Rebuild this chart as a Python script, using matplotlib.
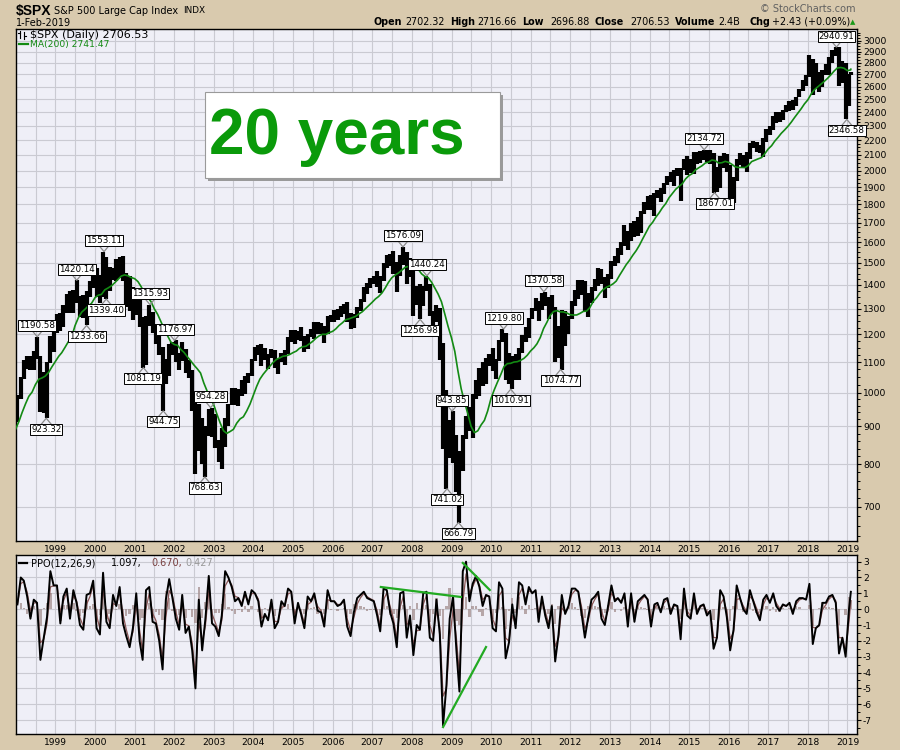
import numpy as np
import pandas as pd
import matplotlib
matplotlib.use("Agg")
import matplotlib.pyplot as plt
import matplotlib.dates as mdates
import matplotlib.transforms as mtransforms
from matplotlib.lines import Line2D
from matplotlib.patches import Rectangle
from matplotlib.ticker import FixedLocator, FormatStrFormatter, NullFormatter

# ---------------- data: $SPX monthly ----------------
CLOSE_START = "1997-03"   # a few months of warm-up for the MA
close = [
    757.12, 801.34, 848.28, 885.14, 954.31, 899.47, 947.28, 914.62, 955.40, 970.43,
    980.28, 1049.34, 1101.75, 1111.75, 1090.82, 1133.84, 1120.67, 957.28, 1017.01, 1098.67, 1163.63, 1229.23,
    1279.64, 1238.33, 1286.37, 1335.18, 1301.84, 1372.71, 1328.72, 1320.41, 1282.71, 1362.93, 1388.91, 1469.25,
    1394.46, 1366.42, 1498.58, 1452.43, 1420.60, 1454.60, 1430.83, 1517.68, 1436.51, 1429.40, 1314.95, 1320.28,
    1366.01, 1239.94, 1160.33, 1249.46, 1255.82, 1224.42, 1211.23, 1133.58, 1040.94, 1059.78, 1139.45, 1148.08,
    1130.20, 1106.73, 1147.39, 1076.92, 1067.14, 989.82, 911.62, 916.07, 815.28, 885.76, 936.31, 879.82,
    855.70, 841.15, 848.18, 916.92, 963.59, 974.50, 990.31, 1008.01, 995.97, 1050.71, 1058.20, 1111.92,
    1131.13, 1144.94, 1126.21, 1107.30, 1120.68, 1140.84, 1101.72, 1104.24, 1114.58, 1130.20, 1173.82, 1211.92,
    1181.27, 1203.60, 1180.59, 1156.85, 1191.50, 1191.33, 1234.18, 1220.33, 1228.81, 1207.01, 1249.48, 1248.29,
    1280.08, 1280.66, 1294.83, 1310.61, 1270.09, 1270.20, 1276.66, 1303.82, 1335.85, 1377.94, 1400.63, 1418.30,
    1438.24, 1406.82, 1420.86, 1482.37, 1530.62, 1503.35, 1455.27, 1473.99, 1526.75, 1549.38, 1481.14, 1468.36,
    1378.55, 1330.63, 1322.70, 1385.59, 1400.38, 1280.00, 1267.38, 1282.83, 1166.36, 968.75, 896.24, 903.25,
    825.88, 735.09, 797.87, 872.81, 919.14, 919.32, 987.48, 1020.62, 1057.08, 1036.19, 1095.63, 1115.10,
    1073.87, 1104.49, 1169.43, 1186.69, 1089.41, 1030.71, 1101.60, 1049.33, 1141.20, 1183.26, 1180.55, 1257.64,
    1286.12, 1327.22, 1325.83, 1363.61, 1345.20, 1320.64, 1292.28, 1218.89, 1131.42, 1253.30, 1246.96, 1257.60,
    1312.41, 1365.68, 1408.47, 1397.91, 1310.33, 1362.16, 1379.32, 1406.58, 1440.67, 1412.16, 1416.18, 1426.19,
    1498.11, 1514.68, 1569.19, 1597.57, 1630.74, 1606.28, 1685.73, 1632.97, 1681.55, 1756.54, 1805.81, 1848.36,
    1782.59, 1859.45, 1872.34, 1883.95, 1923.57, 1960.23, 1930.67, 2003.37, 1972.29, 2018.05, 2067.56, 2058.90,
    1994.99, 2104.50, 2067.89, 2085.51, 2107.39, 2063.11, 2103.84, 1972.18, 1920.03, 2079.36, 2080.41, 2043.94,
    1940.24, 1932.23, 2059.74, 2065.30, 2096.95, 2098.86, 2173.60, 2170.95, 2168.27, 2126.15, 2198.81, 2238.83,
    2278.87, 2363.64, 2362.72, 2384.20, 2411.80, 2423.41, 2470.30, 2471.65, 2519.36, 2575.26, 2647.58, 2673.61,
    2823.81, 2713.83, 2640.87, 2648.05, 2705.27, 2718.37, 2816.29, 2901.52, 2913.98, 2711.74, 2760.17, 2506.85,
    2704.10, 2706.53,
]

BAR_START = "1998-01"
LAST_DAY = "2019-02-01"
high = [
    992, 1050, 1106, 1123, 1122, 1138, 1190.58, 1121, 1066, 1100, 1193, 1244,
    1280, 1282, 1316, 1362, 1375, 1376, 1420.14, 1352, 1358, 1373, 1417, 1473,
    1478, 1445, 1553.11, 1527, 1481, 1474, 1517, 1525, 1530, 1455, 1438, 1390,
    1383, 1376, 1268, 1269, 1315.93, 1286, 1239, 1226, 1155, 1111, 1164, 1173,
    1176.97, 1131, 1173, 1147, 1107, 1072, 996, 965, 925, 901, 951, 954.28,
    935, 864, 895, 924, 965, 1015, 1015, 1011, 1040, 1054, 1063, 1112,
    1155, 1159, 1164, 1151, 1128, 1146, 1141, 1110, 1131, 1142, 1188, 1217,
    1217, 1212, 1229, 1192, 1200, 1219, 1246, 1245, 1243, 1233, 1270, 1276,
    1295, 1297, 1310, 1318, 1326, 1284, 1280, 1306, 1340, 1389, 1407, 1431,
    1441, 1462, 1438, 1498, 1535, 1540, 1555, 1503, 1538, 1576.09, 1552, 1523,
    1471, 1396, 1406, 1397, 1440.24, 1404, 1292, 1313, 1303, 1167, 1007, 918,
    943.85, 875, 833, 876, 930, 956, 997, 1039, 1080, 1101, 1113, 1130,
    1150, 1112, 1180, 1219.80, 1206, 1131, 1120, 1129, 1148, 1196, 1227, 1262,
    1303, 1344, 1333, 1364, 1370.58, 1346, 1356, 1307, 1230, 1293, 1292, 1269,
    1333, 1378, 1420, 1422, 1416, 1364, 1392, 1427, 1474, 1470, 1434, 1448,
    1510, 1531, 1570, 1598, 1688, 1654, 1698, 1710, 1730, 1765, 1814, 1849,
    1851, 1867, 1884, 1897, 1925, 1968, 1991, 2005, 2019, 2019, 2075, 2093,
    2072, 2119, 2117, 2125, 2134.72, 2130, 2132, 2113, 2021, 2094, 2116, 2104,
    2038, 1963, 2072, 2111, 2103, 2120, 2177, 2193, 2187, 2169, 2214, 2277,
    2301, 2372, 2401, 2398, 2418, 2454, 2484, 2491, 2519, 2582, 2657, 2695,
    2872.87, 2835, 2801, 2717, 2742, 2791, 2848, 2916, 2940.91, 2939, 2815, 2800,
    2708, 2716.66,
]
low = [
    912, 980, 1045, 1076, 1074, 1074, 1112, 940, 939, 923.32, 1097, 1137,
    1205, 1212, 1228, 1283, 1281, 1281, 1324, 1268, 1263, 1233.66, 1348, 1387,
    1350, 1325, 1346, 1339.40, 1374, 1420, 1416, 1430, 1419, 1305, 1290, 1254,
    1274, 1228, 1081.19, 1091, 1232, 1203, 1165, 1124, 944.75, 1026, 1054, 1124,
    1101, 1074, 1105, 1063, 1048, 944, 775.68, 833, 800, 768.63, 873, 872,
    842, 806, 788.90, 844, 902, 963, 962, 960, 990, 995, 1031, 1053,
    1104, 1124, 1087, 1107, 1076, 1113, 1079, 1060.72, 1100, 1090, 1127, 1173,
    1163, 1180, 1176, 1137, 1146, 1188, 1183, 1201, 1201, 1168, 1201, 1246,
    1245, 1253, 1268, 1280, 1245, 1219, 1224, 1261, 1290, 1327, 1360, 1385,
    1403, 1389, 1363, 1416, 1476, 1484, 1448, 1370, 1439, 1489, 1406, 1435,
    1270, 1316, 1256.98, 1312, 1373, 1272, 1200, 1248, 1106, 839.80, 741.02, 815,
    804, 734.5, 666.79, 783, 865, 888, 869, 979, 991, 1020, 1029, 1086,
    1071, 1045, 1105, 1170, 1040.78, 1028, 1010.91, 1040, 1041, 1131, 1173, 1186,
    1257, 1289, 1249, 1294, 1311, 1258, 1282, 1101.54, 1114, 1074.77, 1158, 1202,
    1259, 1312, 1341, 1357, 1291, 1266, 1325, 1375, 1396, 1403, 1343, 1385,
    1426, 1485, 1501, 1536, 1581, 1560, 1604, 1627, 1633, 1646, 1746, 1767,
    1770, 1737.92, 1834, 1814, 1859, 1915, 1930, 1904, 1964, 1820.66, 2001, 1972,
    1988, 1980, 2039, 2048, 2067, 2056, 2044, 1867.01, 1871.91, 1893.7, 2019, 1993,
    1812.29, 1810.10, 1937, 2034, 2025, 1991.68, 2074, 2147, 2119, 2114.72, 2083.79, 2187,
    2233, 2271, 2322, 2328, 2344, 2405, 2407, 2417, 2446, 2520, 2566, 2605,
    2682, 2532.69, 2585, 2553.80, 2594, 2698, 2699, 2796, 2864, 2603.54, 2631, 2346.58,
    2443.96, 2696.88,
]

# PPO(12,26,9) line, one reading per month
ppo = [
    0.3, 2.0, 1.8, 0.8, -0.6, 0.6, 0.4, -3.2, -1.8, -0.5, 2.4, 1.5,
    1.5, -0.9, 0.8, 1.3, -0.6, 1.2, 0.4, -1.0, -1.3, 0.9, 1.0, 1.8,
    -1.2, -1.6, 2.3, -0.8, -1.2, 0.9, 0.2, 1.4, -0.9, -1.7, -2.4, -1.2,
    1.0, -2.0, -3.2, 1.2, 1.4, -0.8, -0.9, -2.0, -3.8, 0.6, 1.9, 0.7,
    -0.6, -1.3, 0.9, -1.5, -1.1, -2.6, -5.0, 0.6, -2.6, -0.6, 2.1, -0.9,
    -1.1, -1.7, -0.4, 2.4, 2.0, 1.4, 0.5, 0.7, 0.2, 1.1, 0.3, 1.2,
    1.0, 0.5, -1.1, -0.3, -0.7, 0.6, -1.2, -0.8, 0.5, 0.2, 1.3, 1.1,
    -0.9, 0.4, -0.3, -1.2, 0.8, 0.5, 1.0, -0.1, -0.2, -1.1, 1.2, 0.5,
    0.5, 0.2, 0.3, 0.6, -1.1, -1.7, -0.2, 0.7, 0.9, 1.1, 0.7, 0.6,
    0.5, -0.4, -1.4, 1.3, 1.2, -0.2, -0.9, -2.4, 1.0, 1.1, -1.8, -0.4,
    -2.9, -1.0, -1.3, 1.0, 1.1, -1.8, -2.0, 0.6, -1.6, -7.35, -4.8, -0.6,
    0.8, -2.6, -5.2, 2.4, 3.0, 0.5, 1.6, 2.1, 1.4, 0.2, 0.9, 0.8,
    -1.2, -1.4, 1.7, 1.3, -3.1, -2.1, 0.3, -1.2, 1.7, 1.5, 0.3, 1.4,
    1.0, 1.2, -0.8, 0.8, -0.4, -1.2, 0.2, -3.3, -1.6, 0.9, -0.3, 0.2,
    1.3, 1.3, 1.1, -0.3, -1.8, -0.5, 0.6, 0.8, 1.1, -0.6, -1.0, 0.2,
    1.5, 0.5, 0.7, 0.4, 1.0, -1.1, 1.0, -0.8, 0.5, 0.7, 0.9, 0.6,
    -1.1, 0.3, 0.4, -0.2, 0.6, 0.7, -0.3, 0.3, 0.2, -1.9, 1.3, -0.4,
    -0.6, 1.0, -0.3, 0.2, 0.3, -0.4, -0.1, -2.5, -1.8, 1.2, 0.8, -0.5,
    -2.6, -1.3, 1.5, 0.7, 0.0, -0.3, 1.2, 0.5, -0.2, -0.7, 0.6, 0.9,
    0.4, 1.0, 0.2, -0.1, 0.3, 0.2, 0.4, -0.3, 0.5, 0.7, 0.7, 0.6,
    1.6, -2.2, -1.2, -1.0, 0.4, 0.4, 0.8, 0.9, 0.4, -2.8, -1.8, -3.0,
    0.0, 1.097,
]

# labelled highs (h) and lows (l)
tag_dates = ["1998-07-17", "1998-10-08", "1999-07-16", "1999-10-15", "2000-03-24", "2000-04-14",
             "2001-05-22", "2001-03-22", "2002-01-04", "2001-09-21", "2002-12-02", "2002-10-10",
             "2007-10-11", "2008-05-19", "2008-03-17", "2009-01-06", "2008-11-21", "2009-03-06",
             "2010-04-26", "2010-07-01", "2011-05-02", "2011-10-04", "2015-05-20", "2015-08-24",
             "2018-09-21", "2018-12-26"]
tag_values = [1190.58, 923.32, 1420.14, 1233.66, 1553.11, 1339.40,
              1315.93, 1081.19, 1176.97, 944.75, 954.28, 768.63,
              1576.09, 1440.24, 1256.98, 943.85, 741.02, 666.79,
              1219.80, 1010.91, 1370.58, 1074.77, 2134.72, 1867.01,
              2940.91, 2346.58]
tag_kind = ["h", "l", "h", "l", "h", "l", "h", "l", "h", "l", "h", "l",
            "h", "h", "l", "h", "l", "l", "h", "l", "h", "l", "h", "l", "h", "l"]

# hand-drawn PPO trend lines
trend_dates = [["2007-03-21", "2009-03-28"], ["2009-04-15", "2009-12-20"], ["2008-10-15", "2009-11-15"]]
trend_values = [[1.40, 0.77], [2.92, 1.21], [-7.44, -2.39]]

price_ticks = [700, 800, 900, 1000, 1100, 1200, 1300, 1400, 1500, 1600, 1700, 1800, 1900,
               2000, 2100, 2200, 2300, 2400, 2500, 2600, 2700, 2800, 2900, 3000]
ppo_ticks = [-7, -6, -5, -4, -3, -2, -1, 0, 1, 2, 3]

# ---------------- derived series ----------------
close_dates = pd.date_range(CLOSE_START, periods=len(close), freq="MS") + pd.offsets.MonthEnd(0)
close_dates = close_dates[:-1].append(pd.DatetimeIndex([LAST_DAY]))
ma200 = pd.Series(close).rolling(10).mean().values

bar_dates = pd.date_range(BAR_START, periods=len(high), freq="MS") + pd.Timedelta(days=14)
bar_dates = bar_dates[:-1].append(pd.DatetimeIndex([LAST_DAY]))

ppo_s = pd.Series(ppo)
signal = ppo_s.ewm(alpha=0.7).mean().values
hist = ppo_s.values - signal

# ---------------- figure ----------------
W, H = 900, 750
BG = "#D9CAAE"
FACE = "#EFEFF7"
GRID = "#CACAD2"
GREEN = "#138A13"

plt.rcParams["font.family"] = ["DejaVu Sans"]
fig = plt.figure(figsize=(W / 100, H / 100), dpi=100, facecolor=BG)


def fx(x):
    return x / W


def fy(y):
    return 1 - y / H


def px_axes(x0, y0, x1, y1):
    return fig.add_axes([fx(x0), fy(y1), (x1 - x0) / W, (y1 - y0) / H])


ax = px_axes(16, 28.7, 856.7, 541)
ax2 = px_axes(16, 555, 856.7, 734)

xmin, xmax = pd.Timestamp("1998-01-02"), pd.Timestamp("2019-03-27")

for a in (ax, ax2):
    a.set_facecolor(FACE)
    a.set_xlim(xmin, xmax)
    a.xaxis.set_major_locator(mdates.YearLocator())
    a.xaxis.set_minor_locator(mdates.MonthLocator(bymonth=7))
    a.xaxis.set_major_formatter(mdates.DateFormatter("%Y"))
    a.tick_params(axis="x", which="both", length=0, labelsize=6.6, pad=3)
    a.grid(True, which="both", axis="x", color=GRID, lw=0.8)
    a.grid(True, which="major", axis="y", color=GRID, lw=0.8)
    a.yaxis.tick_right()
    a.tick_params(axis="y", which="major", length=3, width=0.8, labelsize=6.6, pad=1.5)
    a.tick_params(axis="y", which="minor", length=1.8, width=0.7)
    for sp in a.spines.values():
        sp.set_color("black")
        sp.set_linewidth(1.0)
    a.set_axisbelow(True)

# main price panel
ax.set_yscale("log")
ax.set_ylim(629.4, 3114.5)
ax.yaxis.set_major_locator(FixedLocator(price_ticks))
ax.yaxis.set_major_formatter(FormatStrFormatter("%d"))
minor = list(range(640, 1000, 20)) + list(range(1000, 3101, 25))
ax.yaxis.set_minor_locator(FixedLocator([m for m in minor if m % 100]))
ax.yaxis.set_minor_formatter(NullFormatter())

ax.vlines(bar_dates, low, high, color="black", lw=3.0, zorder=2)
ax.plot(close_dates, ma200, color=GREEN, lw=1.2, zorder=3)

# PPO panel
ax2.set_ylim(-7.88, 3.42)
ax2.yaxis.set_major_locator(FixedLocator(ppo_ticks))
ax2.yaxis.set_major_formatter(FormatStrFormatter("%d"))
ax2.yaxis.set_minor_locator(FixedLocator(np.arange(-7.5, 3.5, 1.0)))
ax2.bar(bar_dates, hist, width=22, color="#A89494", alpha=0.8, zorder=2)
ax2.plot(bar_dates, signal, color="#8B5555", lw=0.9, zorder=3)
ax2.plot(bar_dates, ppo, color="black", lw=1.4, zorder=4)
for d, v in zip(trend_dates, trend_values):
    ax2.plot(pd.to_datetime(d), v, color="#22AA22", lw=1.6, zorder=5)

# price labels with pointers
ident = mtransforms.IdentityTransform()
for d, v, k in zip(tag_dates, tag_values, tag_kind):
    px, py = ax.transData.transform((mdates.date2num(pd.Timestamp(d)), v))
    s = 1 if k == "h" else -1
    fig.add_artist(Line2D([px - 5, px, px + 5], [py + 6 * s, py, py + 6 * s],
                          transform=ident, color="#8a8a8a", lw=0.9, zorder=5))
    fig.text(px / W, (py + 11 * s) / H, f"{v:.2f}", ha="center", va="center", fontsize=6.3,
             zorder=6, bbox=dict(boxstyle="square,pad=0.12", fc="white", ec="black", lw=0.7))

# ---------------- header ----------------
fig.text(fx(16), fy(11), "$SPX", fontsize=10, fontweight="bold", family="Liberation Sans", va="center")
fig.text(fx(54), fy(10.5), "S&P 500 Large Cap Index", fontsize=7, va="center")
fig.text(fx(183), fy(10.5), "INDX", fontsize=6.4, va="center")
fig.text(fx(16), fy(23), "1-Feb-2019", fontsize=7, va="center")
fig.text(fx(856), fy(9), "\u00a9 StockCharts.com", fontsize=7, color="#606060", ha="right", va="center")

quote = [("Open", 374, True), ("2702.32", 405.5, False), ("High", 450.5, True), ("2716.66", 477.5, False),
         ("Low", 522.5, True), ("2696.88", 550, False), ("Close", 594.3, True), ("2706.53", 630, False),
         ("Volume", 675, True), ("2.4B", 718.3, False), ("Chg", 749, True), ("+2.43 (+0.09%)", 771.7, False)]
for txt, x, bold in quote:
    fig.text(fx(x), fy(22), txt, fontsize=6.9, fontweight="bold" if bold else "normal", va="center")
fig.text(fx(853), fy(22.5), "\u25b2", fontsize=5, color="#1a9a1a", ha="center", va="center")

# panel legends
fig.add_artist(Line2D([fx(19.5), fx(19.5)], [fy(31), fy(38)], color="black", lw=0.8))
fig.add_artist(Line2D([fx(18), fx(19.5)], [fy(33), fy(33)], color="black", lw=0.8))
fig.add_artist(Line2D([fx(24), fx(24)], [fy(32), fy(39)], color="black", lw=0.8))
fig.add_artist(Line2D([fx(24), fx(25.5)], [fy(36), fy(36)], color="black", lw=0.8))
fig.text(fx(29.5), fy(35), "$SPX (Daily) 2706.53", fontsize=8, va="center")
fig.add_artist(Line2D([fx(19), fx(28)], [fy(44.3), fy(44.3)], color=GREEN, lw=1.6))
fig.text(fx(29.5), fy(44.3), "MA(200) 2741.47", fontsize=6.6, color=GREEN, va="center")

fig.add_artist(Line2D([fx(19), fx(27)], [fy(563.3), fy(563.3)], color="black", lw=1.6))
ppo_legend = [("PPO(12,26,9)", 31, "black"), ("1.097,", 111, "black"),
              ("0.670,", 151.7, "#7a4040"), ("0.427", 185, "#9a9a9a")]
for txt, x, col in ppo_legend:
    fig.text(fx(x), fy(563.3), txt, fontsize=7, color=col, va="center")

# "20 years" callout
fig.add_artist(Rectangle((fx(208), fy(181)), 295 / W, 86 / H, transform=fig.transFigure,
                         fc="#9a9a9a", ec="none", zorder=7))
fig.add_artist(Rectangle((fx(205), fy(178)), 295 / W, 86 / H, transform=fig.transFigure,
                         fc="white", ec="#9a9a9a", lw=0.8, zorder=8))
fig.text(fx(209), fy(137), "20 years", fontsize=46, fontweight="bold", family="Liberation Sans",
         color="#0A9A0A", va="center", zorder=9)

fig.savefig("out.png", dpi=100, facecolor=BG)
